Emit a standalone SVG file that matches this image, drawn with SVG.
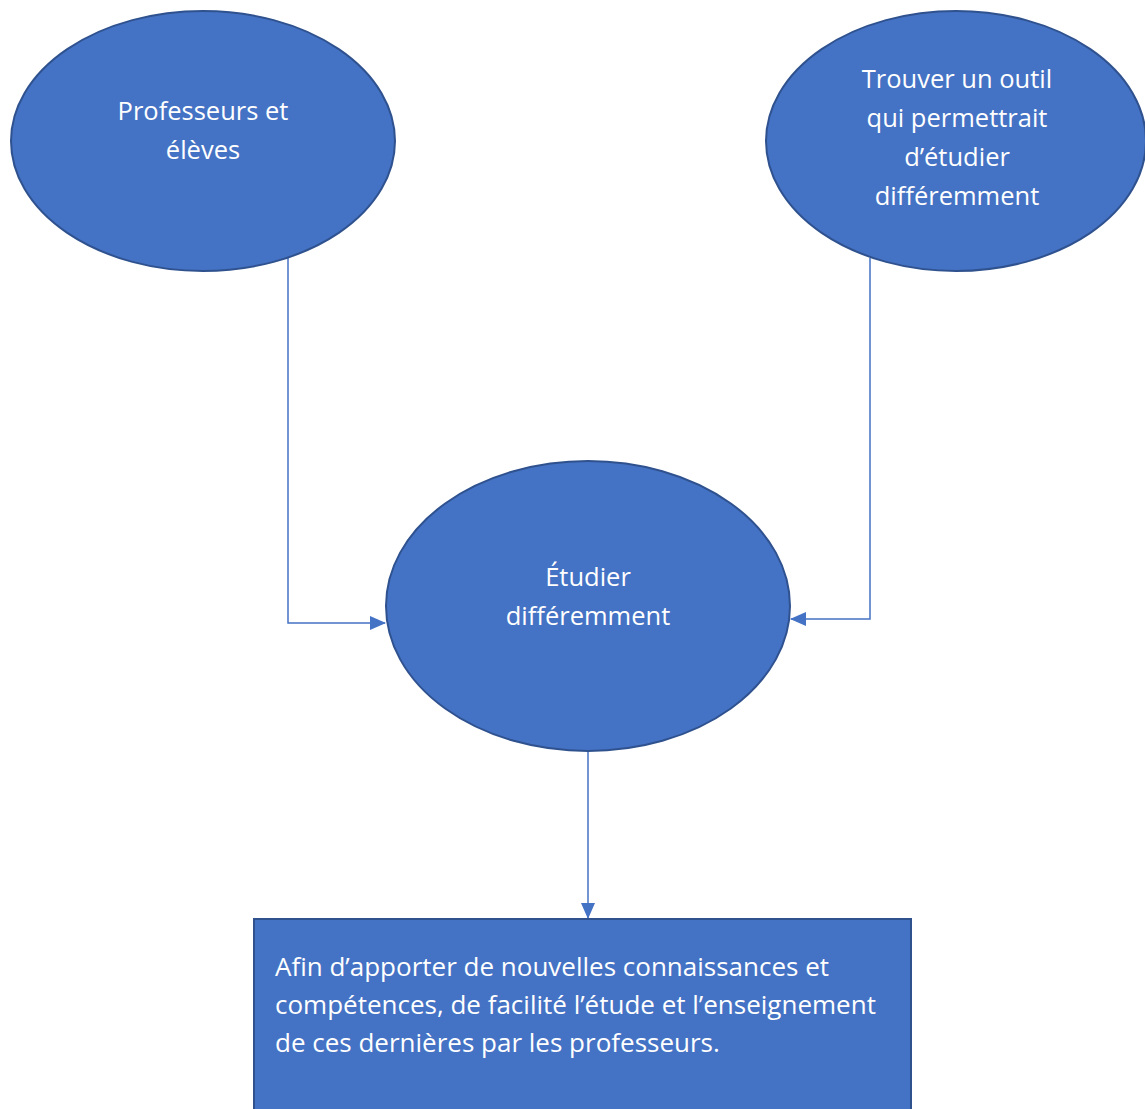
<svg xmlns="http://www.w3.org/2000/svg" width="1145" height="1109" viewBox="0 0 1145 1109">
<defs>
<style>
.node{fill:#4472C4;stroke:#2F528F;stroke-width:2}
.lbl{fill:#ffffff;font-family:"Open Sans","Liberation Sans",sans-serif;font-size:25.5px}
.box{font-size:26px}
.c{text-anchor:middle}
.edge{fill:none;stroke:#4472C4;stroke-width:1.5}
</style>
<marker id="arrL" markerWidth="16" markerHeight="16" refX="15" refY="8" orient="auto" markerUnits="userSpaceOnUse" viewBox="0 0 16 16">
<path d="M0,1 L16,8 L0,15 Z" fill="#4472C4"/>
</marker>
</defs>
<rect width="1145" height="1109" fill="#ffffff"/>
<g id="connectors">
<path class="edge" d="M288,258 V623 H385" marker-end="url(#arrL)"/>
<path class="edge" d="M870,258 V619 H791" marker-end="url(#arrL)"/>
<path class="edge" d="M588,752 V918" marker-end="url(#arrL)"/>
</g>
<g id="n1">
<ellipse class="node" cx="203" cy="141" rx="192" ry="130"/>
<text class="lbl c" x="203" y="120">Professeurs et</text>
<text class="lbl c" x="203" y="159">élèves</text>
</g>
<g id="n2">
<ellipse class="node" cx="956" cy="141" rx="190" ry="130"/>
<text class="lbl c" x="957" y="88">Trouver un outil</text>
<text class="lbl c" x="957" y="127">qui permettrait</text>
<text class="lbl c" x="957" y="166">d’étudier</text>
<text class="lbl c" x="957" y="205">différemment</text>
</g>
<g id="n3">
<ellipse class="node" cx="588" cy="606" rx="202" ry="145"/>
<text class="lbl c" x="588" y="586">Étudier</text>
<text class="lbl c" x="588" y="625">différemment</text>
</g>
<g id="n4">
<rect class="node" x="254" y="919" width="657" height="200"/>
<text class="lbl box" x="275" y="976">Afin d’apporter de nouvelles connaissances et</text>
<text class="lbl box" x="275" y="1014">compétences, de facilité l’étude et l’enseignement</text>
<text class="lbl box" x="275" y="1052">de ces dernières par les professeurs.</text>
</g>
</svg>
